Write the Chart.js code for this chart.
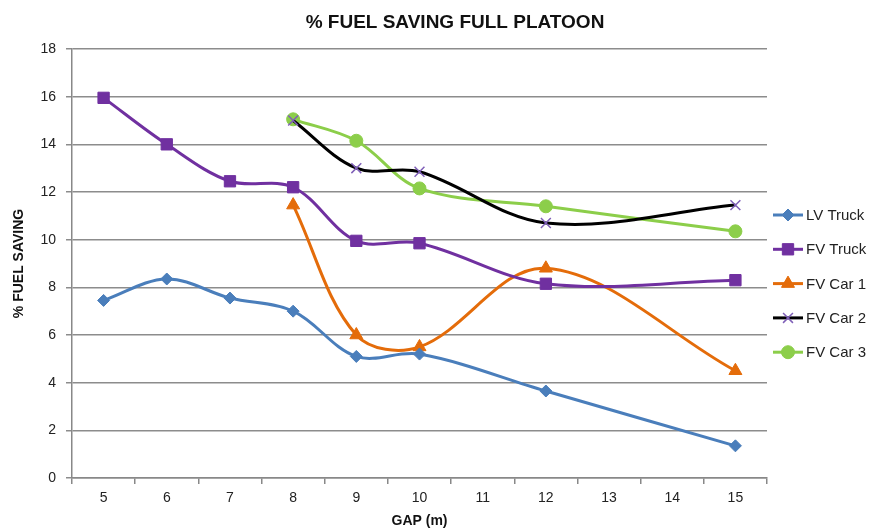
<!DOCTYPE html>
<html>
<head>
<meta charset="utf-8">
<script src="https://cdn.jsdelivr.net/npm/chart.js@4.4.1/dist/chart.umd.min.js"></script>
<style>
html,body{margin:0;padding:0;background:#fff;}
#wrap{width:879px;height:530px;position:relative;}
</style>
</head>
<body>
<div id="wrap"><canvas id="c" width="879" height="530"></canvas></div>
<script>
const gapLabels = ['5','6','7','8','9','10','11','12','13','14','15'];
const lvTruck  = [7.45, 8.35, 7.55, 7.0, 5.1, 5.2, null, 3.65, null, null, 1.35];
const fvTruck  = [15.95, 14.0, 12.45, 12.2, 9.95, 9.85, null, 8.15, null, null, 8.3];
const fvCar1   = [null, null, null, 11.45, 6.0, 5.5, null, 8.8, null, null, 4.5];
const fvCar2   = [null, null, null, 15.0, 13.0, 12.85, null, 10.7, null, null, 11.45];
const fvCar3   = [null, null, null, 15.05, 14.15, 12.15, null, 11.4, null, null, 10.35];
const seriesNames = ['LV Truck','FV Truck','FV Car 1','FV Car 2','FV Car 3'];
const yTicks = [0,2,4,6,8,10,12,14,16,18];
const chartTitle = '% FUEL SAVING FULL PLATOON';

const FONT = "'Liberation Sans', Arial, sans-serif";

function ds(label, data, color, pointStyle, radius, pointColor) {
  return {
    label, data,
    borderColor: color,
    backgroundColor: pointColor || color,
    pointBackgroundColor: pointColor || color,
    pointBorderColor: pointColor || color,
    pointStyle, pointRadius: radius, pointHoverRadius: radius,
    pointBorderWidth: pointStyle === 'crossRot' ? 1.5 : 1,
    borderWidth: 3,
    tension: 0.35,
    spanGaps: true,
    fill: false
  };
}

const titlePlugin = {
  id: 'offsetTitle',
  afterDraw(chart) {
    const ctx = chart.ctx;
    ctx.save();
    ctx.fillStyle = '#111';
    ctx.font = "bold 19px " + FONT;
    ctx.textAlign = 'center';
    ctx.textBaseline = 'middle';
    ctx.fillText(chartTitle, 455, 23);
    ctx.restore();
  }
};

const legendPlugin = {
  id: 'sideLegend',
  afterDraw(chart) {
    const ctx = chart.ctx;
    const x0 = 773, startY = 215, step = 34.3;
    chart.data.datasets.forEach((d, i) => {
      const y = startY + i * step;
      ctx.save();
      ctx.strokeStyle = d.borderColor;
      ctx.lineWidth = 3;
      ctx.beginPath();
      ctx.moveTo(x0, y);
      ctx.lineTo(x0 + 30, y);
      ctx.stroke();
      ctx.fillStyle = d.pointBackgroundColor;
      ctx.strokeStyle = d.pointBorderColor;
      ctx.lineWidth = d.pointBorderWidth;
      Chart.helpers.drawPoint(ctx, {
        pointStyle: d.pointStyle,
        radius: d.pointRadius,
        borderWidth: d.pointBorderWidth,
        rotation: 0
      }, x0 + 15, y);
      ctx.fillStyle = '#222';
      ctx.font = "15px " + FONT;
      ctx.textBaseline = 'middle';
      ctx.textAlign = 'left';
      ctx.fillText(seriesNames[i], x0 + 33, y + 1);
      ctx.restore();
    });
  }
};

new Chart(document.getElementById('c'), {
  type: 'line',
  data: {
    labels: gapLabels,
    datasets: [
      ds(seriesNames[0], lvTruck, '#4a7ebb', 'rectRot', 6),
      ds(seriesNames[1], fvTruck, '#7030a0', 'rect', 8),
      ds(seriesNames[2], fvCar1, '#e46c0a', 'triangle', 7.5),
      ds(seriesNames[3], fvCar2, '#000000', 'crossRot', 7, '#7f5fb8'),
      ds(seriesNames[4], fvCar3, '#8cce4a', 'circle', 6.5)
    ]
  },
  options: {
    responsive: false,
    animation: false,
    layout: { padding: { left: 6, right: 112, top: 49, bottom: 0 } },
    plugins: {
      legend: { display: false },
      tooltip: { enabled: false },
      title: { display: false }
    },
    scales: {
      x: {
        type: 'category',
        offset: true,
        grid: { display: true, drawOnChartArea: false, drawTicks: true, tickLength: 6, color: '#888', lineWidth: 1.5, offset: true },
        border: { display: true, color: '#888', width: 1.5 },
        ticks: { color: '#222', font: { family: FONT, size: 14 }, padding: 6, maxRotation: 0, autoSkip: false },
        title: { display: true, text: 'GAP (m)', color: '#111', font: { family: FONT, size: 14, weight: 'bold' }, padding: { top: 0, bottom: 0 } },
        afterFit(s) { s.height = 52; }
      },
      y: {
        min: 0, max: 18,
        afterBuildTicks(s) { s.ticks = yTicks.map(v => ({ value: v })); },
        grid: { color: '#8c8c8c', lineWidth: 1.5, drawTicks: true, tickLength: 6 },
        border: { display: true, color: '#888', width: 1.5 },
        ticks: { color: '#222', font: { family: FONT, size: 14 }, padding: 10 },
        title: { display: true, text: '% FUEL SAVING', color: '#111', font: { family: FONT, size: 14, weight: 'bold' }, padding: { top: 5, bottom: 4 } },
        afterFit(s) { s.width = 66; }
      }
    }
  },
  plugins: [legendPlugin, titlePlugin]
});
</script>
</body>
</html>
